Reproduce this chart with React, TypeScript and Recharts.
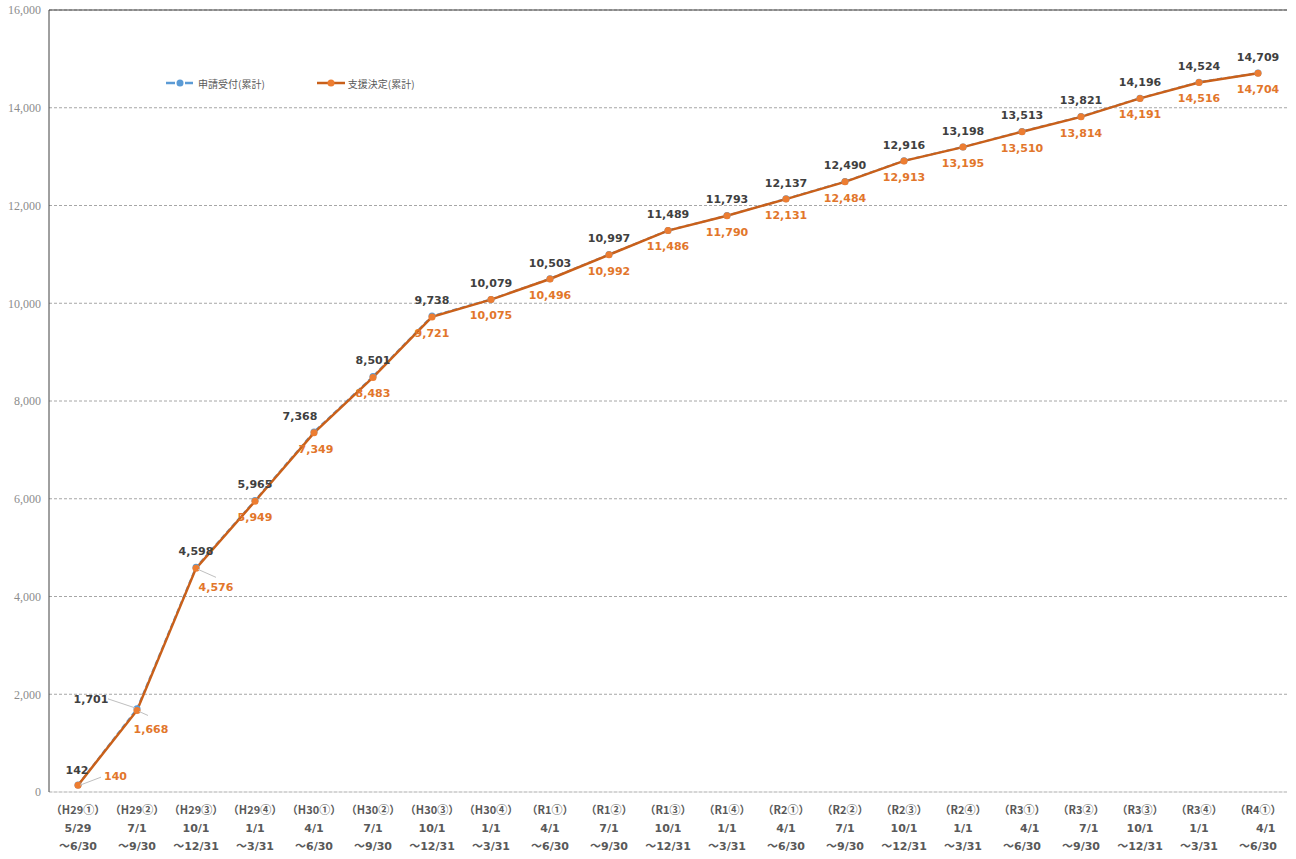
import React from 'react';
import { LineChart, Line, XAxis, YAxis, CartesianGrid, ReferenceLine, LabelList, Legend } from 'recharts';

const periods = ['（H29①）', '（H29②）', '（H29③）', '（H29④）', '（H30①）', '（H30②）', '（H30③）', '（H30④）', '（R1①）', '（R1②）', '（R1③）', '（R1④）', '（R2①）', '（R2②）', '（R2③）', '（R2④）', '（R3①）', '（R3②）', '（R3③）', '（R3④）', '（R4①）'];
const startDates = ['5/29', '7/1', '10/1', '1/1', '4/1', '7/1', '10/1', '1/1', '4/1', '7/1', '10/1', '1/1', '4/1', '7/1', '10/1', '1/1', '\u00a0\u00a0\u00a0\u00a04/1', '\u00a0\u00a0\u00a0\u00a07/1', '10/1', '1/1', '\u00a0\u00a0\u00a0\u00a04/1'];
const endDates = ['～6/30', '～9/30', '～12/31', '～3/31', '～6/30', '～9/30', '～12/31', '～3/31', '～6/30', '～9/30', '～12/31', '～3/31', '～6/30', '～9/30', '～12/31', '～3/31', '～6/30', '～9/30', '～12/31', '～3/31', '～6/30'];
const applications = [142, 1701, 4598, 5965, 7368, 8501, 9738, 10079, 10503, 10997, 11489, 11793, 12137, 12490, 12916, 13198, 13513, 13821, 14196, 14524, 14709];
const decisions = [140, 1668, 4576, 5949, 7349, 8483, 9721, 10075, 10496, 10992, 11486, 11790, 12131, 12484, 12913, 13195, 13510, 13814, 14191, 14516, 14704];
const yTicks = [0, 2000, 4000, 6000, 8000, 10000, 12000, 14000, 16000];
const seriesNames = ['申請受付(累計)', '支援決定(累計)'];

const data = periods.map((p, i) => ({ cat: p, app: applications[i], dec: decisions[i] }));

const fmt = (v: number) => Number(v).toLocaleString('en-US');
const FONT = "'DejaVu Sans', 'Noto Sans CJK JP', sans-serif";
const CJK = "'Noto Sans CJK JP', 'DejaVu Sans', sans-serif";
const BLUE = '#5B9BD5';
const ORANGE_LINE = '#C9601A';
const ORANGE_DOT = '#ED7D31';
const ORANGE_TEXT = '#E2762B';
const DARK_TEXT = '#404040';
const LEADER = '#BFBFBF';

const AppLabel = (props: any) => {
  const { x, y, value, index } = props;
  let dx = 0;
  let dy = -16;
  let leader: number[] | null = null;
  if (index === 0) { dx = -1; dy = -15; }
  if (index === 1) { dx = -46; dy = -10; leader = [-29, -10, -2, -1]; }
  if (index === 4) { dx = -14; }
  return (
    <g>
      {leader && (
        <line x1={x + leader[0]} y1={y + leader[1]} x2={x + leader[2]} y2={y + leader[3]} stroke={LEADER} strokeWidth={1} />
      )}
      <text x={x + dx} y={y + dy} dy="0.35em" textAnchor="middle" fontFamily={FONT} fontSize={11} fontWeight="bold" fill={DARK_TEXT}>
        {fmt(value)}
      </text>
    </g>
  );
};

const DecLabel = (props: any) => {
  const { x, y, value, index } = props;
  let dx = 0;
  let dy = 16;
  let anchor: 'middle' | 'start' = 'middle';
  let leader: number[] | null = null;
  if (index === 0) { dx = 26; dy = -9; anchor = 'start'; leader = [2, 0, 23, -8]; }
  if (index === 1) { dx = 14; dy = 19; leader = [2, 1, 11, 5]; }
  if (index === 2) { dx = 20; dy = 19; leader = [2, 1, 20, 9]; }
  if (index === 4) { dx = 2; }
  return (
    <g>
      {leader && (
        <line x1={x + leader[0]} y1={y + leader[1]} x2={x + leader[2]} y2={y + leader[3]} stroke={LEADER} strokeWidth={1} />
      )}
      <text x={x + dx} y={y + dy} dy="0.35em" textAnchor={anchor} fontFamily={FONT} fontSize={11} fontWeight="bold" fill={ORANGE_TEXT}>
        {fmt(value)}
      </text>
    </g>
  );
};

const XTick = (props: any) => {
  const { x, y, payload } = props;
  const i = payload.index;
  return (
    <text x={x} y={y} textAnchor="middle" fontFamily={FONT} fontSize={11} fontWeight="bold" fill="#595959" style={{ whiteSpace: 'pre' }}>
      <tspan x={x} dy={22} fontFamily={CJK}>{periods[i]}</tspan>
      <tspan x={x} dy={18}>{startDates[i]}</tspan>
      <tspan x={x} dy={18}>{endDates[i]}</tspan>
    </text>
  );
};

const LegendContent = () => (
  <div style={{ display: 'flex', alignItems: 'center', height: 14, fontFamily: CJK, fontSize: 10, color: '#595959', whiteSpace: 'nowrap' }}>
    <svg width={27} height={10} style={{ display: 'block' }}>
      <line x1={0} y1={5} x2={9} y2={5} stroke={BLUE} strokeWidth={2.5} />
      <circle cx={14} cy={5} r={3.5} fill={BLUE} />
      <line x1={19} y1={5} x2={27} y2={5} stroke={BLUE} strokeWidth={2.5} />
    </svg>
    <span style={{ marginLeft: 5 }}>{seriesNames[0]}</span>
    <svg width={28} height={10} style={{ display: 'block', marginLeft: 52 }}>
      <line x1={0} y1={5} x2={28} y2={5} stroke={ORANGE_LINE} strokeWidth={2.5} />
      <circle cx={14} cy={5} r={3.5} fill={ORANGE_DOT} />
    </svg>
    <span style={{ marginLeft: 3 }}>{seriesNames[1]}</span>
  </div>
);

export default function App() {
  return (
    <div style={{ position: 'absolute', left: 0, top: 0, width: 1296, height: 859, background: '#fff' }}>
      <LineChart width={1296} height={859} data={data} margin={{ top: 10, right: 9, left: 0, bottom: 0 }}>
        <CartesianGrid vertical={false} stroke="#A6A6A6" strokeDasharray="3 2" />
        <XAxis
          dataKey="cat"
          interval={0}
          height={67}
          padding={{ left: 29, right: 29 }}
          axisLine={{ stroke: '#D9D9D9' }}
          tickLine={false}
          tickSize={0}
          tickMargin={0}
          tick={<XTick />}
        />
        <YAxis
          width={49}
          domain={[0, 16000]}
          ticks={yTicks}
          interval={0}
          tickFormatter={(v: number) => fmt(v)}
          axisLine={{ stroke: '#404040' }}
          tickLine={false}
          tick={{ fill: '#8C8C8C', fontSize: 12, fontFamily: "'Liberation Serif', serif" }}
        />
        <YAxis
          yAxisId="right"
          orientation="right"
          width={0}
          domain={[0, 16000]}
          tick={false}
          tickLine={false}
          axisLine={{ stroke: '#404040' }}
        />
        <ReferenceLine y={16000} stroke="#404040" strokeWidth={1} />
        <Legend
          layout="horizontal"
          verticalAlign="middle"
          align="center"
          content={<LegendContent />}
          wrapperStyle={{ top: 76, left: 166, width: 320 }}
        />
        <Line
          type="linear"
          dataKey="app"
          name={seriesNames[0]}
          stroke={BLUE}
          strokeWidth={2}
          strokeDasharray="5 3"
          dot={{ r: 3.5, fill: BLUE, stroke: BLUE, strokeWidth: 0 }}
          activeDot={false}
          isAnimationActive={false}
        >
          <LabelList dataKey="app" content={<AppLabel />} />
        </Line>
        <Line
          type="linear"
          dataKey="dec"
          name={seriesNames[1]}
          stroke={ORANGE_LINE}
          strokeWidth={2.5}
          dot={{ r: 3.5, fill: ORANGE_DOT, stroke: ORANGE_DOT, strokeWidth: 0 }}
          activeDot={false}
          isAnimationActive={false}
        >
          <LabelList dataKey="dec" content={<DecLabel />} />
        </Line>
      </LineChart>
    </div>
  );
}
